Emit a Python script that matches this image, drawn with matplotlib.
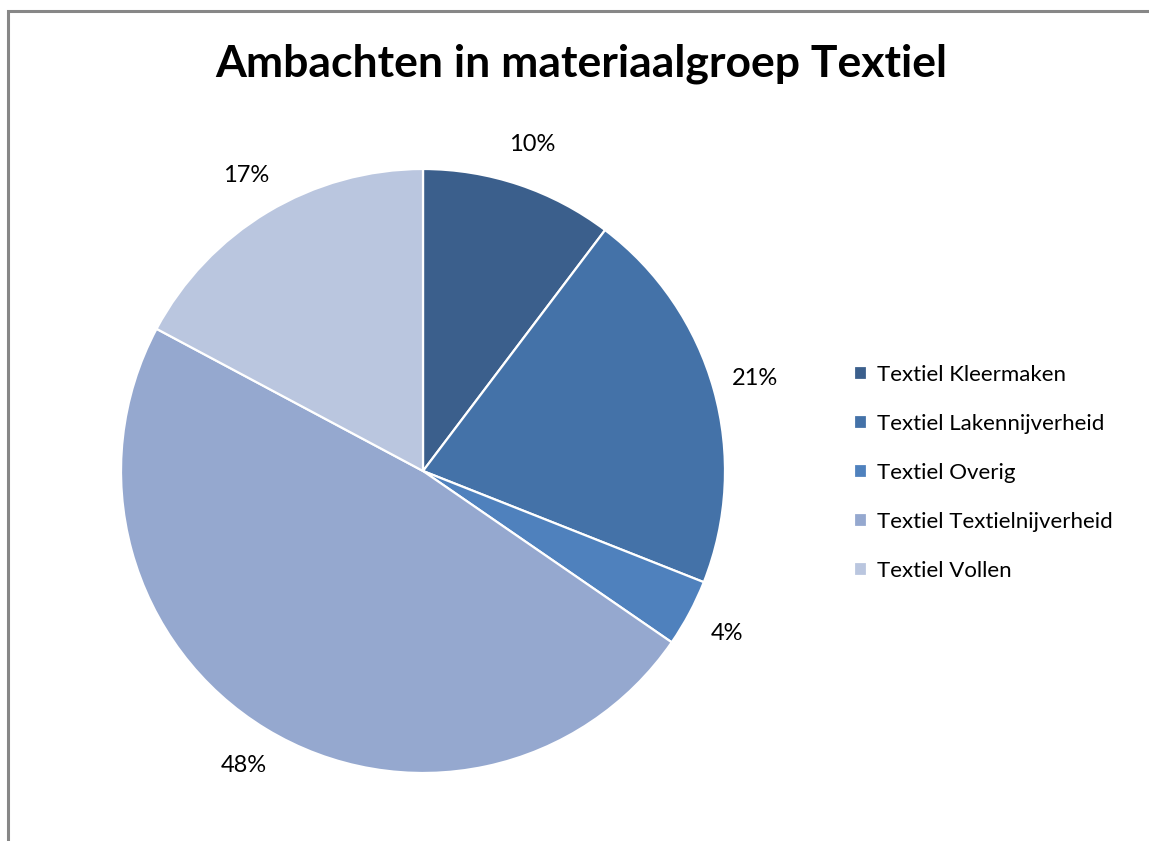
import matplotlib
matplotlib.use("Agg")
import matplotlib.pyplot as plt
from matplotlib.patches import Rectangle

title = "Ambachten in materiaalgroep Textiel"
categories = ["Textiel Kleermaken", "Textiel Lakennijverheid", "Textiel Overig",
              "Textiel Textielnijverheid", "Textiel Vollen"]
values = [10.3, 20.7, 3.6, 48.2, 17.2]
colors = ["#3B5F8C", "#4472A8", "#4F81BD", "#95A8CF", "#BAC6DF"]

plt.rcParams['font.family'] = ['Lato', 'DejaVu Sans']

W, H = 1149, 841
fig = plt.figure(figsize=(W / 100, H / 100), dpi=100)
fig.patch.set_facecolor("white")

# chart border
fig.add_artist(Rectangle((7.5 / W, -0.01), 1.2, 1 - 10.5 / H + 0.01, transform=fig.transFigure,
                         fill=False, edgecolor="#878787", linewidth=2.2))

cx, cy, r = 423, 471, 302
ax = fig.add_axes([(cx - r) / W, (H - cy - r) / H, 2 * r / W, 2 * r / H])
wedges, texts, autotexts = ax.pie(
    values, colors=colors, startangle=90, counterclock=False,
    autopct=lambda p: f"{p:.0f}%", pctdistance=1.14, radius=1,
    wedgeprops=dict(edgecolor="white", linewidth=1.6),
    textprops=dict(fontsize=17, color="black"))
ax.set_xlim(-1, 1)
ax.set_ylim(-1, 1)
ax.set_aspect("equal")
ax.axis("off")

fig.text(0.5 + 7 / W, 1 - 64 / H, title, ha="center", va="center", fontsize=32, fontweight="bold")

leg = fig.legend(wedges, categories, loc="center left", bbox_to_anchor=(845 / W, 1 - 473 / H),
                 frameon=False, fontsize=16, handlelength=0.6, handleheight=0.6,
                 handletextpad=0.45, labelspacing=1.3, borderaxespad=0)

fig.savefig("out.png", dpi=100, facecolor="white")
